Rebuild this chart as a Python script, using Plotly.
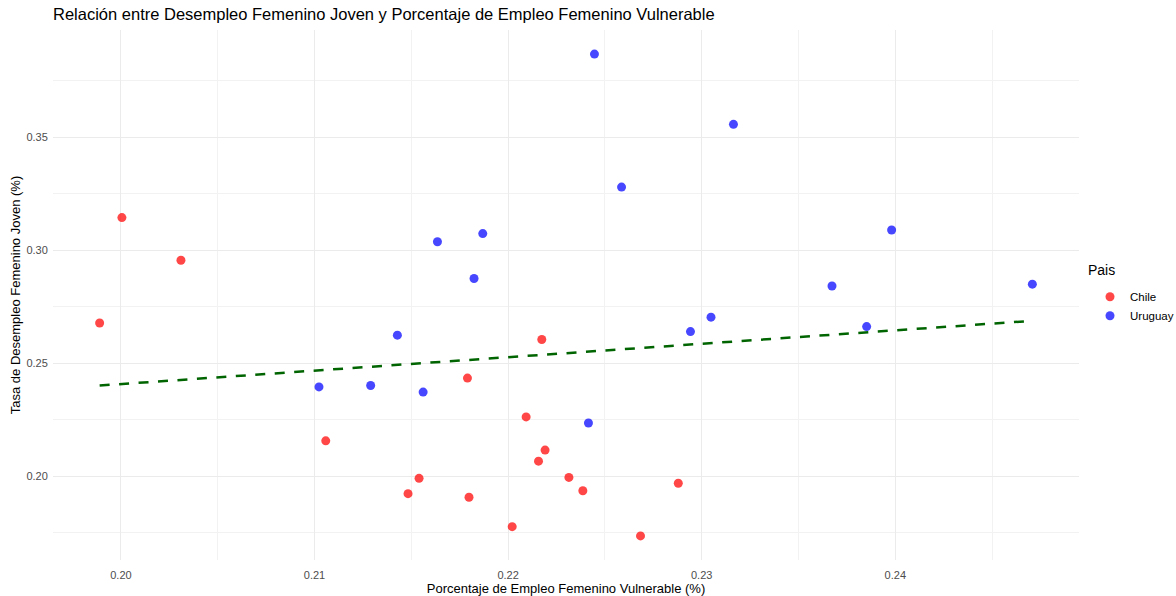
import numpy as np
import plotly.graph_objects as go

# --- data ---
chile_x = [0.19890, 0.20005, 0.20310, 0.21058, 0.21540, 0.21483, 0.21790, 0.21798, 0.22021,
           0.22093, 0.22157, 0.22174, 0.22191, 0.22314, 0.22386, 0.22684, 0.22879]
chile_y = [0.2678, 0.3145, 0.2956, 0.2156, 0.1990, 0.1922, 0.2434, 0.1906, 0.1776,
           0.2262, 0.2066, 0.2605, 0.2115, 0.1994, 0.1935, 0.1735, 0.1968]
uru_x = [0.21023, 0.21290, 0.21428, 0.21561, 0.21635, 0.21824, 0.21869, 0.22415, 0.22446,
         0.22586, 0.22942, 0.23048, 0.23164, 0.23673, 0.23852, 0.23981, 0.24708]
uru_y = [0.2395, 0.2401, 0.2624, 0.2372, 0.3038, 0.2875, 0.3074, 0.2235, 0.3869,
         0.3280, 0.2640, 0.2704, 0.3558, 0.2842, 0.2662, 0.3090, 0.2850]
x_ticks = [0.20, 0.21, 0.22, 0.23, 0.24]
y_ticks = [0.20, 0.25, 0.30, 0.35]

title = "Relación entre Desempleo Femenino Joven y Porcentaje de Empleo Femenino Vulnerable"
x_title = "Porcentaje de Empleo Femenino Vulnerable (%)"
y_title = "Tasa de Desempleo Femenino Joven (%)"
legend_title = "Pais"

# --- regression line over all points ---
all_x = np.array(chile_x + uru_x)
all_y = np.array(chile_y + uru_y)
slope, intercept = np.polyfit(all_x, all_y, 1)
lx = np.linspace(all_x.min(), all_x.max(), 80)
ly = slope * lx + intercept

def expand(lo, hi, f=0.05):
    d = (hi - lo) * f
    return [lo - d, hi + d]

xr = expand(all_x.min(), all_x.max())
yr = expand(all_y.min(), all_y.max())

FONT = "Liberation Sans, Arial, sans-serif"
W, H = 1176, 596
ML, MR, MT, MB = 53, 97, 29.5, 36
PW, PH = W - ML - MR, H - MT - MB

fig = go.Figure()
fig.add_trace(go.Scatter(x=lx, y=ly, mode="lines", showlegend=False,
                         line=dict(color="#006400", width=2.5, dash="10px,9.5px"),
                         hoverinfo="skip"))
fig.add_trace(go.Scatter(x=chile_x, y=chile_y, mode="markers", name="Chile",
                         marker=dict(color="rgba(255,0,0,0.72)", size=9, line=dict(width=0))))
fig.add_trace(go.Scatter(x=uru_x, y=uru_y, mode="markers", name="Uruguay",
                         marker=dict(color="rgba(0,0,255,0.72)", size=9, line=dict(width=0))))

axis_common = dict(showline=False, zeroline=False, ticks="outside", tickcolor="rgba(0,0,0,0)",
                   showgrid=True, gridcolor="#EBEBEB", gridwidth=1.1,
                   tickfont=dict(family=FONT, size=11, color="#4D4D4D"),
                   automargin=False)

fig.add_annotation(text=legend_title, xref="paper", yref="paper",
                   x=(1086 - ML) / PW, y=(H - MB - 270) / PH, xanchor="left", yanchor="middle",
                   showarrow=False, font=dict(family=FONT, size=14, color="black"))

fig.update_layout(
    width=W, height=H,
    paper_bgcolor="white", plot_bgcolor="white",
    margin=dict(l=ML, r=MR, t=MT, b=MB, autoexpand=False),
    font=dict(family=FONT, color="black"),
    title=dict(text=title, x=53/W, xanchor="left", xref="container",
               y=1 - 14/H, yanchor="middle", yref="container",
               font=dict(family=FONT, size=16.5, color="black")),
    xaxis=dict(range=xr, tickvals=x_ticks, tickformat=".2f", ticklen=5,
               title=dict(text=x_title, standoff=4, font=dict(family=FONT, size=13, color="black")),
               minor=dict(dtick=0.005, tick0=0.195, showgrid=True, gridcolor="#F2F2F2", gridwidth=0.7,
                          ticks=""),
               **axis_common),
    yaxis=dict(range=yr, tickvals=y_ticks, tickformat=".2f", ticklen=2,
               title=dict(text=y_title, standoff=2, font=dict(family=FONT, size=13, color="black")),
               minor=dict(dtick=0.025, tick0=0.175, showgrid=True, gridcolor="#F2F2F2", gridwidth=0.7,
                          ticks=""),
               **axis_common),
    legend=dict(font=dict(family=FONT, size=11.5, color="black"),
                x=(1090 - ML) / PW, xanchor="left", y=(H - MB - 282) / PH, yanchor="top",
                bgcolor="rgba(0,0,0,0)", itemsizing="trace"),
    showlegend=True,
)

fig.write_html("out.html", config={"displayModeBar": False},
               post_script="document.body.style.margin='0';document.body.style.overflow='hidden';")
